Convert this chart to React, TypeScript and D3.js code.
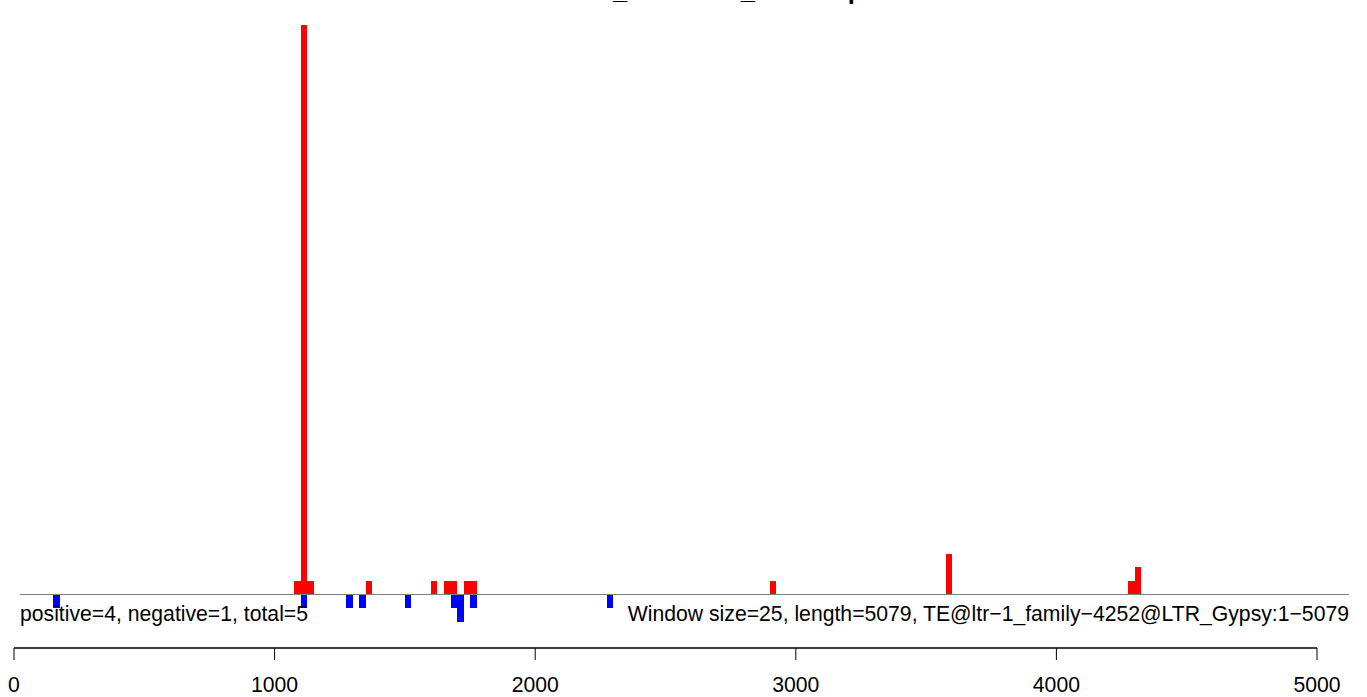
import React from "react";
import * as d3 from "d3";

const windowSize = 25;
const posStarts = [1075, 1100, 1125, 1350, 1600, 1650, 1675, 1725, 1750, 2900, 3575, 4275, 4300];
const posCounts = [1, 42, 1, 1, 1, 1, 1, 1, 1, 1, 3, 1, 2];
const negStarts = [150, 1100, 1275, 1325, 1500, 1675, 1700, 1750, 2275];
const negCounts = [1, 1, 1, 1, 1, 1, 2, 1, 1];
const xTicks = [0, 1000, 2000, 3000, 4000, 5000];
const titleText = "TE-sRNA_ltr-1-4252_LTR-map";
const leftNote = "positive=4, negative=1, total=5";
const rightNote = "Window size=25, length=5079, TE@ltr\u22121_family\u22124252@LTR_Gypsy:1\u22125079";

const W = 1367;
const H = 697;
const FONT = "'Liberation Sans', Arial, Helvetica, sans-serif";

export default function App() {
  const x = d3.scaleLinear().domain([0, 5000]).range([14, 1317]);
  const y = d3.scaleLinear().domain([0, 42]).range([594.5, 25]);

  const pos = posStarts.map((s, i) => ({ s, c: posCounts[i] }));
  const neg = negStarts.map((s, i) => ({ s, c: negCounts[i] }));

  const axisY = 648;

  return (
    <svg
      width={W}
      height={H}
      style={{ position: "absolute", left: 0, top: 0, background: "#fff" }}
      fontFamily={FONT}
    >
      <rect x={0} y={0} width={W} height={H} fill="#fff" />
      <text x={683} y={-1.5} textAnchor="middle" fontWeight="bold" fontSize={25.5} fill="#000">
        {titleText}
      </text>
      {pos.map((d, i) => (
        <rect
          key={"p" + i}
          x={x(d.s)}
          y={y(d.c)}
          width={x(d.s + windowSize) - x(d.s)}
          height={y(0) - y(d.c)}
          fill="#ff0000"
          shapeRendering="crispEdges"
        />
      ))}
      {neg.map((d, i) => (
        <rect
          key={"n" + i}
          x={x(d.s)}
          y={y(0)}
          width={x(d.s + windowSize) - x(d.s)}
          height={y(-d.c) - y(0)}
          fill="#0000ff"
          shapeRendering="crispEdges"
        />
      ))}
      <line x1={20} x2={1349} y1={y(0)} y2={y(0)} stroke="#808080" strokeWidth={1} />
      <text x={20} y={621} fontSize={21.2} fill="#000">
        {leftNote}
      </text>
      <text x={1349} y={621} fontSize={21.2} fill="#000" textAnchor="end">
        {rightNote}
      </text>
      <line x1={x(0)} x2={x(5000)} y1={axisY} y2={axisY} stroke="#000" strokeWidth={1.6} />
      {xTicks.map((t) => (
        <g key={t}>
          <line x1={x(t)} x2={x(t)} y1={axisY} y2={axisY + 12} stroke="#000" strokeWidth={1} />
          <text x={x(t)} y={692} textAnchor="middle" fontSize={21.2} fill="#000">
            {t}
          </text>
        </g>
      ))}
    </svg>
  );
}
